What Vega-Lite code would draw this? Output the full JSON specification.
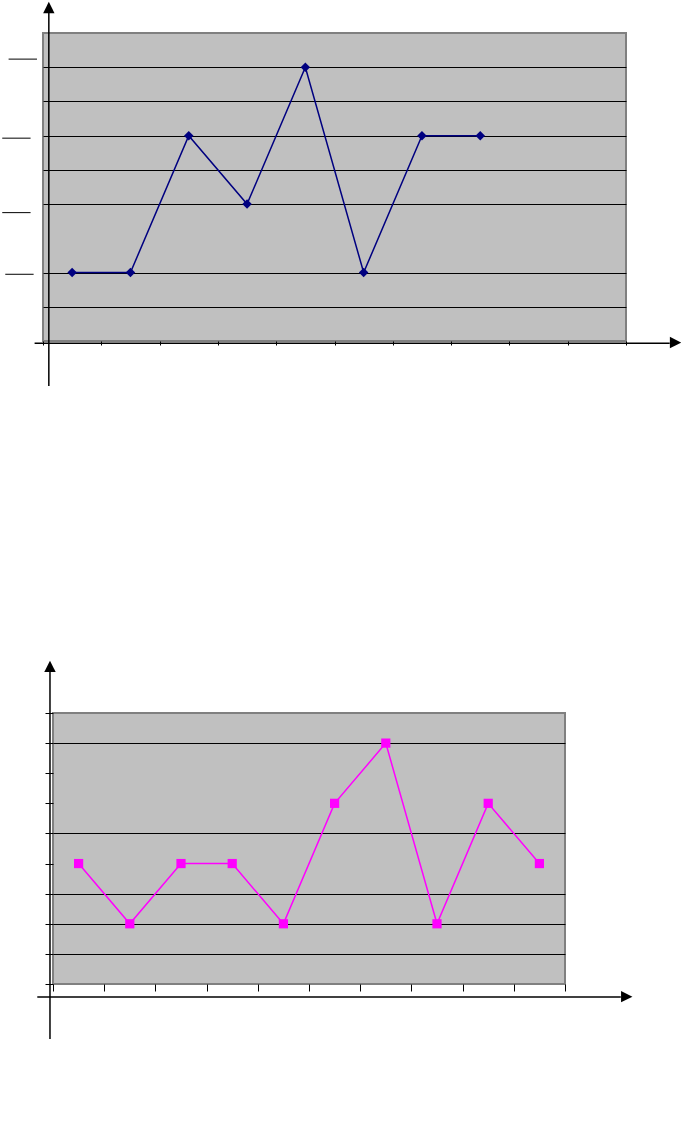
{
  "$schema": "https://vega.github.io/schema/vega-lite/v6.json",
  "autosize": {"type": "pad"},
  "padding": {"left": 0, "top": 0, "right": 0, "bottom": 0},
  "background": "white",
  "config": {
    "view": {"stroke": null},
    "axis": {"labels": false, "domain": false, "tickColor": "black", "gridColor": "black", "gridWidth": 1, "tickWidth": 1}
  },
  "datasets": {
    "top": [
      {"cat": 1, "value": 2}, {"cat": 2, "value": 2}, {"cat": 3, "value": 6}, {"cat": 4, "value": 4},
      {"cat": 5, "value": 8}, {"cat": 6, "value": 2}, {"cat": 7, "value": 6}, {"cat": 8, "value": 6}
    ],
    "bottom": [
      {"cat": 1, "value": 4}, {"cat": 2, "value": 2}, {"cat": 3, "value": 4}, {"cat": 4, "value": 4},
      {"cat": 5, "value": 2}, {"cat": 6, "value": 6}, {"cat": 7, "value": 8}, {"cat": 8, "value": 2},
      {"cat": 9, "value": 6}, {"cat": 10, "value": 4}
    ],
    "topAxes": [
      {"x": 0.6, "x2": 0.6, "y": -1.316, "y2": 9.59},
      {"x": 0.356, "x2": 11.25, "y": -0.067, "y2": -0.067}
    ],
    "topMarks": [
      {"x": -0.09, "x2": 0.397, "y": 8.237, "y2": 8.237},
      {"x": -0.199, "x2": 0.287, "y": 5.927, "y2": 5.927},
      {"x": -0.199, "x2": 0.287, "y": 3.751, "y2": 3.751},
      {"x": -0.147, "x2": 0.339, "y": 1.95, "y2": 1.95}
    ],
    "topHeads": [
      {"x": 0.6, "y": 9.746, "dir": "up"},
      {"x": 11.35, "y": -0.044, "dir": "right"}
    ],
    "bottomAxes": [
      {"x": 0.441, "x2": 0.441, "y": -1.829, "y2": 10.386},
      {"x": 0.193, "x2": 11.59, "y": -0.429, "y2": -0.429}
    ],
    "bottomHeads": [
      {"x": 0.441, "y": 10.55, "dir": "up"},
      {"x": 11.706, "y": -0.42, "dir": "right"}
    ]
  },
  "vconcat": [
    {
      "width": 583,
      "height": 308,
      "view": {"fill": "#c0c0c0", "stroke": "#808080", "strokeWidth": 2},
      "layer": [
        {
          "data": {"name": "top"},
          "mark": {"type": "line", "color": "#000080", "strokeWidth": 1.5,
                   "point": {"shape": "diamond", "size": 90, "filled": true, "color": "#000080", "opacity": 1}},
          "encoding": {
            "x": {"field": "cat", "type": "quantitative",
                  "scale": {"domain": [0.5, 10.5], "nice": false, "zero": false},
                  "axis": {"title": null, "values": [0.5, 1.5, 2.5, 3.5, 4.5, 5.5, 6.5, 7.5, 8.5, 9.5, 10.5], "tickCount": 30, "grid": false, "ticks": true, "tickSize": 4}},
            "y": {"field": "value", "type": "quantitative",
                  "scale": {"domain": [0, 9], "nice": false, "zero": false},
                  "axis": {"title": null, "values": [1, 2, 4, 5, 6, 7, 8], "tickCount": 30, "grid": true, "ticks": false}}
          }
        },
        {
          "data": {"name": "topAxes"},
          "mark": {"type": "rule", "color": "black", "strokeWidth": 1.5},
          "encoding": {
            "x": {"field": "x", "type": "quantitative"},
            "x2": {"field": "x2"},
            "y": {"field": "y", "type": "quantitative"},
            "y2": {"field": "y2"}
          }
        },
        {
          "data": {"name": "topMarks"},
          "mark": {"type": "rule", "color": "black", "strokeWidth": 1},
          "encoding": {
            "x": {"field": "x", "type": "quantitative"},
            "x2": {"field": "x2"},
            "y": {"field": "y", "type": "quantitative"},
            "y2": {"field": "y2"}
          }
        },
        {
          "data": {"name": "topHeads"},
          "mark": {"type": "point", "filled": true, "color": "black", "opacity": 1, "size": 130},
          "encoding": {
            "x": {"field": "x", "type": "quantitative"},
            "y": {"field": "y", "type": "quantitative"},
            "shape": {"field": "dir", "type": "nominal",
                      "scale": {"domain": ["up", "right"], "range": ["M-1,1L0,-1L1,1Z", "M-1,-1L1,0L-1,1Z"]},
                      "legend": null}
          }
        }
      ]
    },
    {
      "hconcat": [
        {"width": 1, "height": 1, "data": {"values": []}, "mark": "point"},
        {
          "width": 512,
          "height": 271,
          "view": {"fill": "#c0c0c0", "stroke": "#808080", "strokeWidth": 2},
          "layer": [
            {
              "data": {"name": "bottom"},
              "mark": {"type": "line", "color": "#ff00ff", "strokeWidth": 1.5,
                       "point": {"shape": "square", "size": 85, "filled": true, "color": "#ff00ff", "opacity": 1}},
              "encoding": {
                "x": {"field": "cat", "type": "quantitative",
                      "scale": {"domain": [0.5, 10.5], "nice": false, "zero": false},
                      "axis": {"title": null, "values": [0.5, 1.5, 2.5, 3.5, 4.5, 5.5, 6.5, 7.5, 8.5, 9.5, 10.5], "tickCount": 30, "grid": false, "ticks": true, "tickSize": 7}},
                "y": {"field": "value", "type": "quantitative",
                      "scale": {"domain": [0, 9], "nice": false, "zero": false},
                      "axis": {"title": null, "values": [0, 1, 2, 3, 4, 5, 6, 7, 8, 9], "tickCount": 30, "grid": true, "ticks": true, "tickSize": 8,
                               "gridOpacity": {"condition": {"test": "indexof([1, 2, 3, 5, 8], datum.value) >= 0", "value": 1}, "value": 0}}}
              }
            },
            {
              "data": {"name": "bottomAxes"},
              "mark": {"type": "rule", "color": "black", "strokeWidth": 1.5},
              "encoding": {
                "x": {"field": "x", "type": "quantitative"},
                "x2": {"field": "x2"},
                "y": {"field": "y", "type": "quantitative"},
                "y2": {"field": "y2"}
              }
            },
            {
              "data": {"name": "bottomHeads"},
              "mark": {"type": "point", "filled": true, "color": "black", "opacity": 1, "size": 130},
              "encoding": {
                "x": {"field": "x", "type": "quantitative"},
                "y": {"field": "y", "type": "quantitative"},
                "shape": {"field": "dir", "type": "nominal",
                          "scale": {"domain": ["up", "right"], "range": ["M-1,1L0,-1L1,1Z", "M-1,-1L1,0L-1,1Z"]},
                          "legend": null}
              }
            }
          ]
        }
      ],
      "spacing": 9,
      "bounds": "flush"
    }
  ],
  "spacing": 372,
  "bounds": "flush"
}
